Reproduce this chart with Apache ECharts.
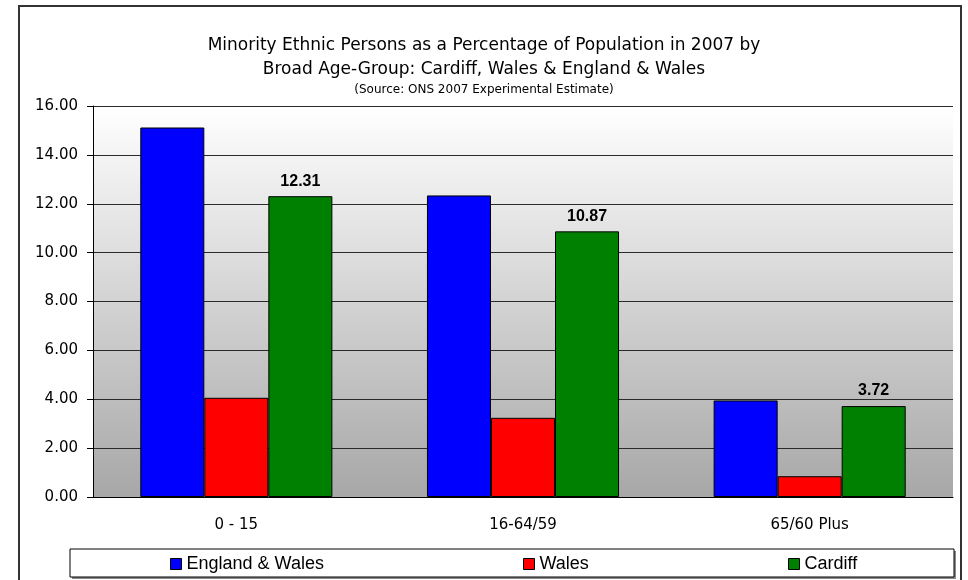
<!DOCTYPE html>
<html>
<head>
<meta charset="utf-8">
<script src="https://cdn.jsdelivr.net/npm/echarts@6/dist/echarts.min.js"></script>
<style>
  html, body { margin: 0; padding: 0; background: #fff; }
  #chart { width: 968px; height: 580px; }
</style>
</head>
<body>
<div id="chart"></div>
<script>
const categories = ["0 - 15", "16-64/59", "65/60 Plus"];
const englandWales = [15.12, 12.34, 3.95];
const wales = [4.06, 3.24, 0.85];
const cardiff = [12.31, 10.87, 3.72];
const yTicks = { min: 0, max: 16, interval: 2 };

const chart = echarts.init(document.getElementById("chart"));

const barBorder = { borderColor: "#000", borderWidth: 1 };
const legendText = { fontFamily: "Liberation Sans", fontSize: 18, color: "#000" };

function oneLegend(name, left) {
  return {
    data: [name],
    left: left,
    top: 555,
    padding: 0,
    itemWidth: 11,
    itemHeight: 11,
    icon: "rect",
    itemStyle: barBorder,
    textStyle: legendText,
    selectedMode: false,
  };
}

chart.setOption({
  animation: false,
  title: {
    text: "Minority Ethnic Persons as a Percentage of Population in 2007 by\nBroad Age-Group: Cardiff, Wales & England & Wales",
    subtext: "(Source: ONS 2007 Experimental Estimate)",
    left: "center",
    top: 29,
    itemGap: 2,
    textStyle: {
      fontFamily: "DejaVu Sans",
      fontSize: 17,
      fontWeight: "normal",
      lineHeight: 24,
      color: "#000",
    },
    subtextStyle: {
      fontFamily: "DejaVu Sans",
      fontSize: 12,
      color: "#000",
    },
  },
  graphic: [
    {
      type: "rect",
      shape: { x: 19, y: 6, width: 942, height: 600 },
      style: { fill: null, stroke: "#333", lineWidth: 2 },
      z: -1,
    },
    // legend box: grey drop shadow, then white box with thin black border
    {
      type: "rect",
      shape: { x: 72, y: 551, width: 884, height: 28 },
      style: { fill: "#8c8c8c" },
      z: -2,
    },
    {
      type: "rect",
      shape: { x: 70, y: 549, width: 884, height: 28 },
      style: { fill: "#fff", stroke: "#000", lineWidth: 1 },
      z: -1,
    },
  ],
  legend: [
    oneLegend("England & Wales", 170),
    oneLegend("Wales", 523),
    oneLegend("Cardiff", 788),
  ],
  grid: {
    left: 93,
    right: 15,
    top: 106,
    bottom: 83,
    show: true,
    borderWidth: 0,
    backgroundColor: new echarts.graphic.LinearGradient(0, 0, 0, 1, [
      { offset: 0, color: "#ffffff" },
      { offset: 1, color: "#a7a7a7" },
    ]),
  },
  xAxis: {
    type: "category",
    data: categories,
    axisLine: { lineStyle: { color: "#000", width: 1 } },
    axisTick: { length: 6, lineStyle: { color: "#333" } },
    axisLabel: {
      fontFamily: "DejaVu Sans",
      fontSize: 15,
      color: "#000",
      margin: 21,
    },
  },
  yAxis: {
    type: "value",
    min: yTicks.min,
    max: yTicks.max,
    interval: yTicks.interval,
    axisLine: { show: true, lineStyle: { color: "#000", width: 1 } },
    axisTick: { show: true, length: 6, lineStyle: { color: "#000" } },
    axisLabel: {
      fontFamily: "DejaVu Sans",
      fontSize: 15,
      color: "#000",
      margin: 15,
      formatter: (v) => v.toFixed(2),
    },
    splitLine: { lineStyle: { color: "#2a2a2a", width: 1 } },
  },
  series: [
    {
      name: "England & Wales",
      type: "bar",
      data: englandWales,
      barGap: "0%",
      barCategoryGap: "33%",
      itemStyle: Object.assign({ color: "#0000ff" }, barBorder),
    },
    {
      name: "Wales",
      type: "bar",
      data: wales,
      itemStyle: Object.assign({ color: "#ff0000" }, barBorder),
    },
    {
      name: "Cardiff",
      type: "bar",
      data: cardiff,
      itemStyle: Object.assign({ color: "#008000" }, barBorder),
      label: {
        show: true,
        position: "top",
        distance: 7,
        fontFamily: "Liberation Sans",
        fontWeight: "bold",
        fontSize: 16,
        color: "#000",
        formatter: (p) => p.value.toFixed(2),
      },
    },
  ],
});
</script>
</body>
</html>
